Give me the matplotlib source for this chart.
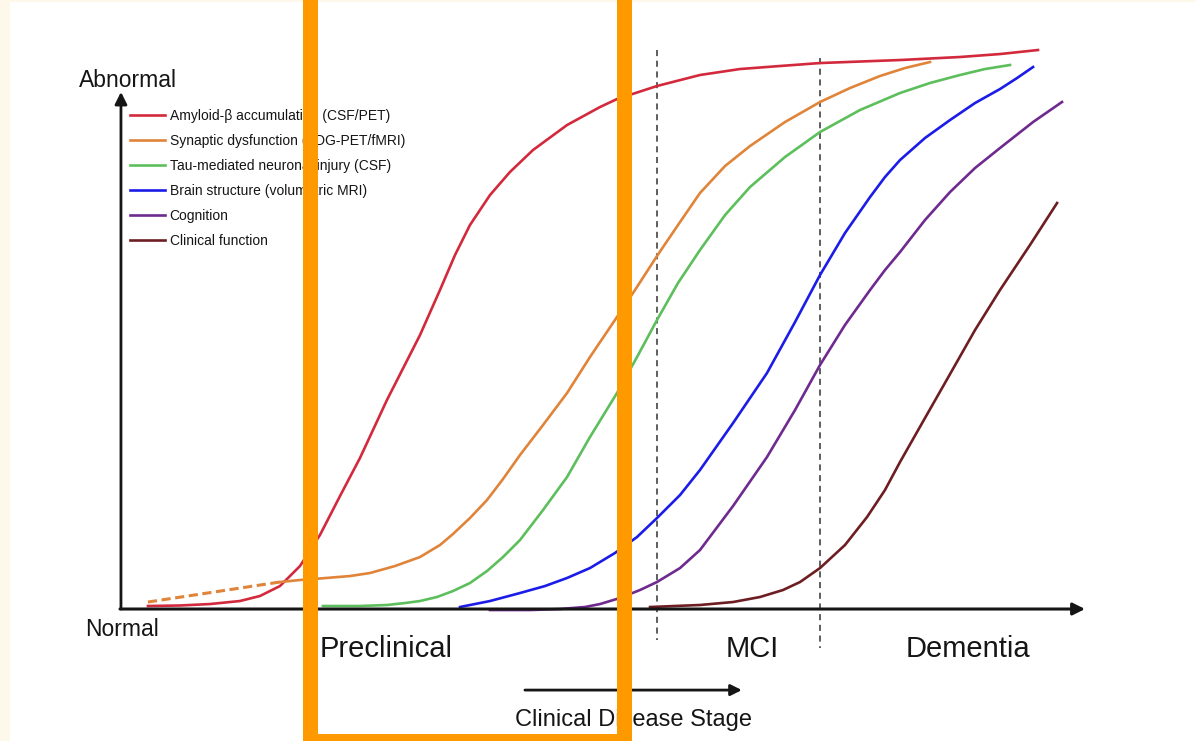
import matplotlib.pyplot as plt
from matplotlib.patches import Rectangle

# disease progression (0-100 along the x axis) vs abnormality (0-100)
red_x = [2.80, 6.12, 9.23, 12.34, 14.42, 16.49, 18.57, 20.64, 22.72, 24.79, 27.59, 31.02, 33.09, 34.65, 36.20,
         38.28, 40.35, 42.74, 46.27, 49.69, 51.45, 55.60, 60.06, 64.21, 68.36, 72.51, 80.81, 87.03, 91.18, 95.12]
red_y = [0.54, 0.63, 0.89, 1.43, 2.33, 4.11, 7.69, 13.24, 20.21, 27.01, 37.39, 49.02, 57.07, 63.33, 68.69,
         74.06, 78.18, 82.11, 86.58, 89.80, 91.23, 93.56, 95.53, 96.60, 97.14, 97.67, 98.21, 98.75, 99.28, 100.0]

orange_dash_x = [2.80, 16.49]
orange_dash_y = [1.25, 4.83]
orange_x = [16.49, 18.57, 20.64, 23.76, 25.83, 28.42, 31.02, 33.09, 34.44, 36.20, 37.97, 39.63, 41.39, 43.78, 46.27,
            48.65, 51.24, 53.32, 55.60, 57.99, 60.06, 62.66, 65.25, 68.88, 72.51, 75.62, 78.73, 81.33, 83.92]
orange_y = [4.83, 5.19, 5.46, 5.90, 6.44, 7.69, 9.30, 11.45, 13.42, 16.28, 19.50, 23.26, 27.55, 32.92, 38.64,
            45.08, 51.70, 57.07, 63.15, 69.23, 74.42, 79.25, 82.83, 87.12, 90.70, 93.20, 95.35, 96.78, 97.85]

green_x = [20.95, 24.79, 27.59, 29.46, 31.02, 32.78, 34.44, 36.20, 37.97, 39.63, 41.39, 43.78, 46.27, 48.65, 51.45,
           53.53, 55.60, 57.78, 60.06, 62.66, 65.25, 68.88, 72.51, 76.66, 80.81, 83.92, 87.03, 89.63, 92.22]
green_y = [0.54, 0.54, 0.72, 1.07, 1.43, 2.15, 3.22, 4.65, 6.80, 9.30, 12.34, 17.71, 23.61, 30.77, 38.64,
           45.08, 51.70, 58.32, 64.22, 70.48, 75.49, 80.86, 85.33, 89.27, 92.31, 94.10, 95.53, 96.60, 97.32]

blue_x = [35.17, 38.28, 41.39, 43.98, 46.27, 48.65, 51.24, 53.53, 55.60, 57.99, 60.06, 63.49, 67.01, 69.92, 72.51,
          75.10, 77.70, 79.25, 80.81, 83.40, 86.00, 88.59, 91.18, 92.95, 94.61]
blue_y = [0.36, 1.43, 2.86, 4.11, 5.55, 7.33, 10.02, 12.88, 16.28, 20.39, 24.87, 33.27, 42.22, 51.34, 59.75,
          67.26, 73.70, 77.28, 80.32, 84.26, 87.48, 90.52, 93.02, 94.99, 96.96]

purple_x = [38.28, 42.43, 45.54, 48.13, 49.69, 51.76, 53.84, 55.60, 57.99, 60.06, 63.49, 67.01, 69.92, 72.51, 75.10,
            77.70, 79.25, 80.81, 83.40, 86.00, 88.59, 91.18, 94.61, 97.61]
purple_y = [-0.18, -0.18, 0.0, 0.36, 0.89, 1.97, 3.40, 4.83, 7.33, 10.55, 18.43, 27.19, 35.60, 43.65, 50.81,
            57.07, 60.64, 63.86, 69.59, 74.60, 78.89, 82.47, 87.12, 90.70]

brown_x = [54.88, 60.06, 63.49, 66.29, 68.67, 70.44, 72.51, 75.10, 77.39, 79.25, 80.81, 83.40, 86.00, 88.59, 91.18,
           94.29, 97.10]
brown_y = [0.36, 0.72, 1.25, 2.15, 3.40, 4.83, 7.33, 11.45, 16.46, 21.29, 26.30, 34.17, 42.04, 49.91, 57.07,
           65.12, 72.63]

labels = ['Amyloid-β accumulation (CSF/PET)', 'Synaptic dysfunction (FDG-PET/fMRI)',
          'Tau-mediated neuronal injury (CSF)', 'Brain structure (volumetric MRI)',
          'Cognition', 'Clinical function']
colors = ['#d22a3c', '#e0843a', '#5cbf5c', '#1c1ce8', '#6e2a8e', '#6e1e22']

stage_names = ['Preclinical', 'MCI', 'Dementia']
stage_centers = [27.5, 65.5, 87.9]
stage_bounds = [55.6, 72.5]

plt.rcParams['font.family'] = ['Liberation Sans', 'DejaVu Sans']

fig = plt.figure(figsize=(11.96, 7.41), dpi=100, facecolor='#fef8ea')
ax = fig.add_axes([10 / 1196, 0, 1186 / 1196, 739 / 741])
ax.set_facecolor('white')
ax.set_xlim(-11.51, 111.51)
ax.set_ylim(-23.61, 108.59)
ax.set_xticks([])
ax.set_yticks([])
for sp in ax.spines.values():
    sp.set_visible(False)

ink = '#151515'
head = '-|>,head_length=0.6,head_width=0.3'
ax.annotate('', xy=(0, 92.5), xytext=(0, 0),
            arrowprops=dict(arrowstyle=head, lw=2.0, color=ink, mutation_scale=12, shrinkA=0, shrinkB=0))
ax.annotate('', xy=(100, 0), xytext=(-0.1, 0),
            arrowprops=dict(arrowstyle=head, lw=2.2, color=ink, mutation_scale=12, shrinkA=0, shrinkB=0))

ax.plot([stage_bounds[0]] * 2, [100, -5.5], color='#333333', lw=1.1, ls=(0, (4, 3)))
ax.plot([stage_bounds[1]] * 2, [98.6, -7.0], color='#333333', lw=1.1, ls=(0, (4, 3)))

lw = 1.9
ax.plot(red_x, red_y, color=colors[0], lw=lw, label=labels[0], solid_joinstyle='round')
ax.plot(orange_x, orange_y, color=colors[1], lw=lw, label=labels[1], solid_joinstyle='round')
ax.plot(orange_dash_x, orange_dash_y, color=colors[1], lw=2.2, ls=(0, (3, 1.5)))
ax.plot(green_x, green_y, color=colors[2], lw=lw, label=labels[2], solid_joinstyle='round')
ax.plot(blue_x, blue_y, color=colors[3], lw=lw, label=labels[3], solid_joinstyle='round')
ax.plot(purple_x, purple_y, color=colors[4], lw=lw, label=labels[4], solid_joinstyle='round')
ax.plot(brown_x, brown_y, color=colors[5], lw=lw, label=labels[5], solid_joinstyle='round')

ax.legend(loc='upper left', bbox_to_anchor=(0.93, 89.5), bbox_transform=ax.transData,
          frameon=False, fontsize=10, handlelength=2.5, handletextpad=0.36, labelspacing=0.8,
          borderpad=0, borderaxespad=0, labelcolor=ink)

ax.text(0.73, 93.4, 'Abnormal', ha='center', va='baseline', fontsize=16.5, color=ink)
ax.text(0.1, -4.8, 'Normal', ha='center', va='baseline', fontsize=16.5, color=ink)

for name, cx in zip(stage_names, stage_centers):
    ax.text(cx, -8.6, name, ha='center', va='baseline', fontsize=21, color=ink)

ax.annotate('', xy=(64.4, -14.5), xytext=(41.9, -14.5),
            arrowprops=dict(arrowstyle=head, lw=2.0, color=ink, mutation_scale=11, shrinkA=0, shrinkB=0))
ax.text(53.2, -19.9, 'Clinical Disease Stage', ha='center', va='center', fontsize=17, color=ink)

# orange highlight box around the preclinical stage
ax.add_patch(Rectangle((19.6, -23.6), 32.6, 200, fill=False, edgecolor='#ff9900',
                       lw=10.8, clip_on=False, zorder=10))

fig.savefig('out.png', dpi=100, facecolor=fig.get_facecolor())
